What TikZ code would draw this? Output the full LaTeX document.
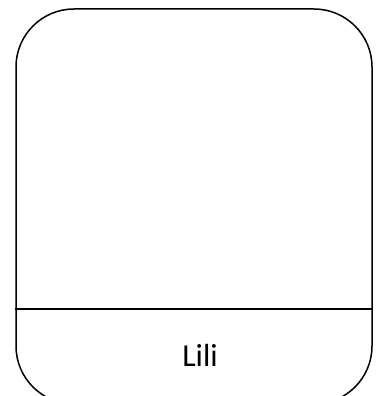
\documentclass[tikz,border=0pt]{standalone}
\usepackage{fontspec}
\setmainfont{Carlito}
\usetikzlibrary{positioning, calc}
\tikzset{
  card/.style={rectangle, rounded corners=58pt, draw=black, line width=1.5pt,
               minimum width=356pt, minimum height=395pt, inner sep=0pt},
  lbl/.style={font=\fontsize{32}{38}\selectfont, inner sep=0pt},
}
\begin{document}
\begin{tikzpicture}[x=1pt, y=1pt]
  \useasboundingbox (0,0) rectangle (376,-396);
  \node[card] (frame) at (194,-206.5) {};
  \coordinate (sepL) at ($(frame.west)+(0,-102.5)$);
  \coordinate (sepR) at ($(frame.east)+(0,-102.5)$);
  \draw[line width=1.5pt] (sepL) -- (sepR);
  \node[lbl] (name) at (200,-355) {Lili};
\end{tikzpicture}
\end{document}
